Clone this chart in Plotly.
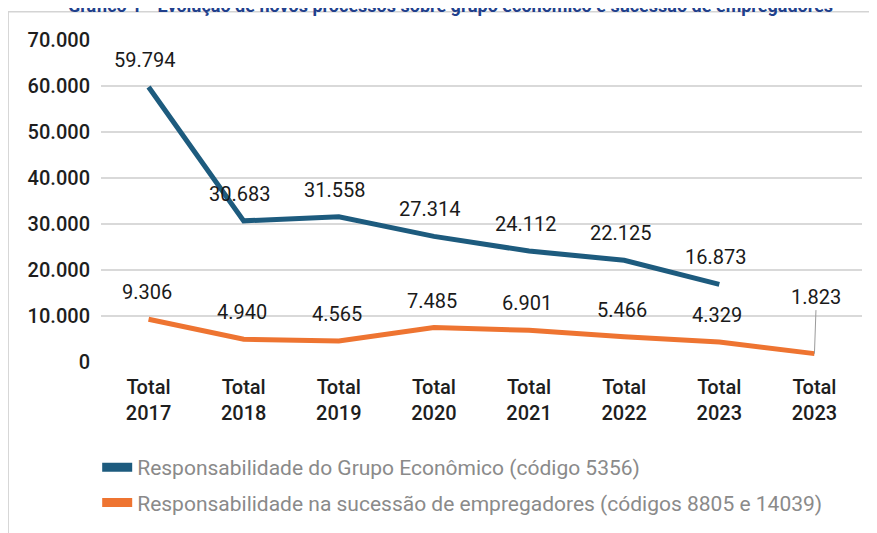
import plotly.graph_objects as go

categories = ["Total<br>2017", "Total<br>2018", "Total<br>2019", "Total<br>2020",
              "Total<br>2021", "Total<br>2022", "Total<br>2023", "Total<br>2023"]
grupo_economico = [59794, 30683, 31558, 27314, 24112, 22125, 16873]
sucessao = [9306, 4940, 4565, 7485, 6901, 5466, 4329, 1823]
y_ticks = [0, 10000, 20000, 30000, 40000, 50000, 60000, 70000]

name_grupo = "Responsabilidade do Grupo Econômico (código 5356)"
name_suc = "Responsabilidade na sucessão de empregadores (códigos 8805 e 14039)"
title_text = "Gráfico 1 - Evolução de novos processos sobre grupo econômico e sucessão de empregadores"

BLUE = "#1D5B7E"
ORANGE = "#EE7431"

def fmt(v):
    return f"{v:,}".replace(",", ".")

xg = list(range(len(grupo_economico)))
xs = list(range(len(sucessao)))

fig = go.Figure()
fig.add_trace(go.Scatter(x=xg, y=grupo_economico, mode="lines",
                         line=dict(color=BLUE, width=5), showlegend=False, hoverinfo="skip"))
fig.add_trace(go.Scatter(x=xs, y=sucessao, mode="lines",
                         line=dict(color=ORANGE, width=5), showlegend=False, hoverinfo="skip"))
# legend entries
fig.add_trace(go.Scatter(x=[None], y=[None], mode="lines", name=name_grupo,
                         line=dict(color=BLUE, width=9), legendgroup="a"))
fig.add_trace(go.Scatter(x=[None], y=[None], mode="lines", name=name_suc,
                         line=dict(color=ORANGE, width=9), legendgroup="b"))

label_font = dict(family="Roboto", size=20, color="#1a1a1a")
annotations = []
for i, v in enumerate(grupo_economico):
    annotations.append(dict(x=xg[i], y=v, xref="x", yref="y", text=fmt(v), showarrow=False,
                            yshift=27, xshift=-4, font=label_font))
for i, v in enumerate(sucessao):
    if i == len(sucessao) - 1:
        annotations.append(dict(x=xs[i], y=v, xref="x", yref="y", text=fmt(v), showarrow=True,
                                arrowhead=0, arrowwidth=1, arrowcolor="#9a9a9a", ax=2, ay=-57,
                                standoff=0, startstandoff=0, font=label_font))
    else:
        annotations.append(dict(x=xs[i], y=v, xref="x", yref="y", text=fmt(v), showarrow=False,
                                yshift=27, xshift=-2, font=label_font))

# partially visible title at top
annotations.append(dict(x=0.459, y=1.069, xref="paper", yref="paper", xanchor="center", yanchor="bottom",
                        text="<b>" + title_text + "</b>", showarrow=False,
                        font=dict(family="Roboto", size=18, color="#21408C")))

tick_font = dict(family="Roboto Medium, Roboto", size=20, color="#1e1e1e")

fig.update_layout(
    width=877, height=533,
    margin=dict(l=93, r=23, t=32, b=179, autoexpand=False),
    paper_bgcolor="white", plot_bgcolor="white",
    separators=",.",
    annotations=annotations,
    shapes=[dict(type="rect", xref="paper", yref="paper", x0=-0.122, x1=1.2, y0=-1.0, y1=1.088,
                 line=dict(color="#d4d4d4", width=1.5), layer="below")],
    xaxis=dict(tickmode="array", tickvals=xs, ticktext=categories, range=[-0.5, 7.5],
               showgrid=False, zeroline=False, showline=False, automargin=False,
               tickfont=tick_font, ticklabelstandoff=11),
    yaxis=dict(range=[0, 70000], tickmode="array", tickvals=y_ticks,
               ticktext=[fmt(t) for t in y_ticks], automargin=False,
               showgrid=True, gridcolor="#d9d9d9", gridwidth=1.5, zeroline=False, showline=False,
               tickfont=tick_font, ticklabelstandoff=10),
    legend=dict(orientation="v", x=-0.005, xanchor="left", y=-0.264, yanchor="top",
                font=dict(family="Roboto", size=21, color="#8a8a8a"),
                tracegroupgap=5, bgcolor="rgba(0,0,0,0)"),
)

fig.write_html("out.html")
